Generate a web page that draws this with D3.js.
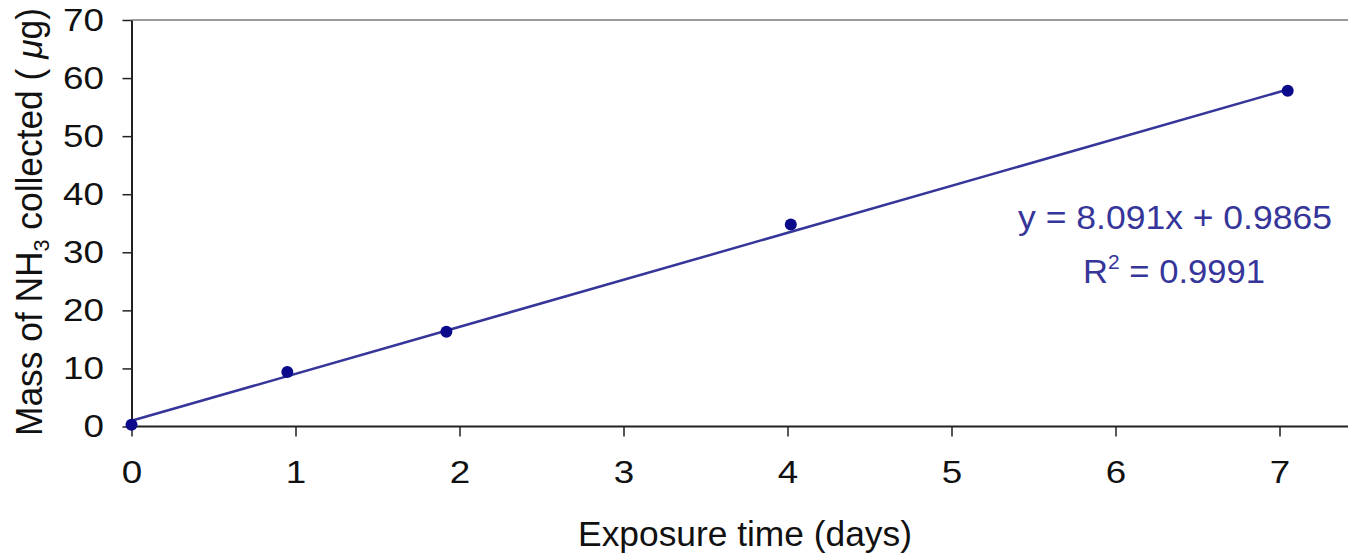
<!DOCTYPE html>
<html>
<head>
<meta charset="utf-8">
<script src="https://cdn.jsdelivr.net/npm/d3@7"></script>
<style>
  body { margin: 0; background: #fff; }
  text { font-family: Arial, "Liberation Sans", sans-serif; }
</style>
</head>
<body>
<script>
// data
var days = [0, 0.95, 1.92, 4.02, 7.05];
var mass = [0.3, 9.4, 16.3, 34.8, 57.8];
var xTicks = [0, 1, 2, 3, 4, 5, 6, 7];
var yTicks = [0, 10, 20, 30, 40, 50, 60, 70];
var fit = { slope: 8.091, intercept: 0.9865, r2: 0.9991 };

var W = 1348, H = 554;
var x0 = 131.5, y0 = 426.5;
var stretch = 1.15; // the original text is drawn wider than Arial

var svg = d3.select("body").append("svg")
    .attr("width", W).attr("height", H);

var x = d3.scaleLinear().domain([0, 7]).range([x0, x0 + 7 * 164]);
var y = d3.scaleLinear().domain([0, 70]).range([y0, 20]);

// widen a text node about its own anchor point
function widen(sel, sx) {
  sel.each(function() {
    var t = d3.select(this);
    var tx = +t.attr("x") || 0, ty = +t.attr("y") || 0;
    t.attr("x", 0).attr("y", 0)
     .attr("transform", "translate(" + tx + "," + ty + ") scale(" + sx + ",1)");
  });
}

// scale a text so its drawn width becomes w
function fitWidth(t, w) {
  var bw = t.node().getBBox().width;
  widen(t, w / bw);
}

// top border of plot area
svg.append("line")
    .attr("x1", x0).attr("x2", W)
    .attr("y1", y(70)).attr("y2", y(70))
    .attr("stroke", "#9a9a9a").attr("stroke-width", 2);

// y axis
var yAxis = svg.append("g")
    .attr("transform", "translate(" + x0 + ",0)")
    .call(d3.axisLeft(y).tickValues(yTicks).tickFormat(d3.format("d"))
      .tickSize(9).tickPadding(18.5).tickSizeOuter(0));
yAxis.select(".domain").attr("stroke", "#222").attr("stroke-width", 2);
yAxis.selectAll(".tick line").attr("stroke", "#222").attr("stroke-width", 1.5);
yAxis.selectAll(".tick text").attr("font-size", 32).attr("fill", "#111")
    .attr("font-family", "Arial, 'Liberation Sans', sans-serif")
    .call(widen, stretch);

// x axis
var xAxis = svg.append("g")
    .attr("transform", "translate(0," + y0 + ")")
    .call(d3.axisBottom(x).tickValues(xTicks).tickFormat(d3.format("d"))
      .tickSize(10).tickPadding(24).tickSizeOuter(0));
xAxis.select(".domain").attr("d", "M" + x0 + ",0H" + W)
    .attr("stroke", "#222").attr("stroke-width", 2);
xAxis.selectAll(".tick line").attr("stroke", "#222").attr("stroke-width", 1.5);
xAxis.selectAll(".tick text").attr("font-size", 32).attr("fill", "#111")
    .attr("font-family", "Arial, 'Liberation Sans', sans-serif")
    .call(widen, stretch);

// trend line
var lastX = d3.max(days);
svg.append("line")
    .attr("x1", x(0)).attr("y1", y(fit.intercept))
    .attr("x2", x(lastX)).attr("y2", y(fit.slope * lastX + fit.intercept))
    .attr("stroke", "#35359a").attr("stroke-width", 2.5);

// points
svg.selectAll("circle.pt")
    .data(days.map(function(d, i) { return { x: d, y: mass[i] }; }))
    .enter().append("circle")
    .attr("class", "pt")
    .attr("cx", function(d) { return x(d.x); })
    .attr("cy", function(d) { return y(d.y); })
    .attr("r", 6)
    .attr("fill", "#0a0a8a");

// equation
var eq = svg.append("g").attr("fill", "#35359a").attr("font-size", 33)
    .attr("text-anchor", "middle");
var l1 = eq.append("text").attr("x", 1175).attr("y", 229)
    .text("y = " + fit.slope + "x + " + fit.intercept);
fitWidth(l1, 314);
var r2 = eq.append("text").attr("x", 1174).attr("y", 283);
r2.append("tspan").text("R");
r2.append("tspan").attr("dy", -14).attr("font-size", 20).text("2");
r2.append("tspan").attr("dy", 14).text(" = " + fit.r2);
fitWidth(r2, 182);

// axis titles
var xt = svg.append("text")
    .attr("x", 745).attr("y", 546)
    .attr("text-anchor", "middle").attr("font-size", 36).attr("fill", "#111")
    .text("Exposure time (days)");
fitWidth(xt, 334);

var yt = svg.append("text")
    .attr("text-anchor", "middle").attr("font-size", 36).attr("fill", "#111");
yt.append("tspan").text("Mass of NH");
yt.append("tspan").attr("font-size", 22).attr("dy", 7).text("3");
yt.append("tspan").attr("dy", -7).text(" collected ( ");
yt.append("tspan").attr("font-style", "italic").text("\u03bc");
yt.append("tspan").text("g)");
var ytw = yt.node().getBBox().width;
yt.attr("transform", "translate(42,222) rotate(-90) scale(" + (428 / ytw) + ",1)");
</script>
</body>
</html>
